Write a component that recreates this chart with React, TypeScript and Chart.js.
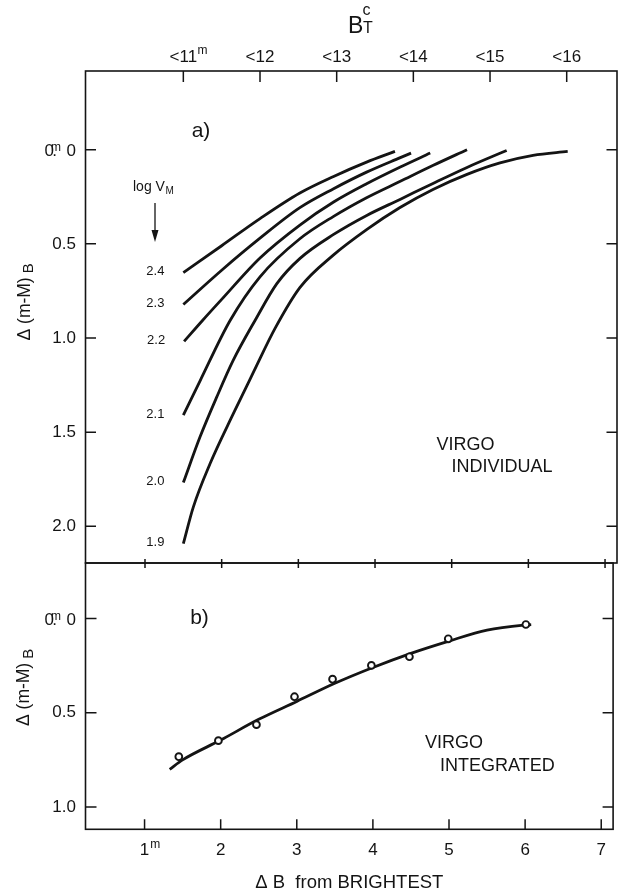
import React, { useEffect, useRef } from 'react';
import { Chart, registerables } from 'chart.js';

Chart.register(...registerables);

const FONT = '"Liberation Sans", Arial, Helvetica, sans-serif';
const INK = '#141414';

// ---------- Panel a) : VIRGO individual, curves labelled by log V_M ----------
const vmLabels = ['2.4', '2.3', '2.2', '2.1', '2.0', '1.9'];

const c24x = [1.5, 2.0, 2.5, 3.02, 3.46, 3.89, 4.26];
const c24y = [0.653, 0.51, 0.366, 0.23, 0.142, 0.066, 0.009];

const c23x = [1.5, 2.0, 2.5, 3.02, 3.46, 3.89, 4.33, 4.47];
const c23y = [0.822, 0.64, 0.47, 0.308, 0.207, 0.119, 0.042, 0.018];

const c22x = [1.51, 1.75, 2.0, 2.5, 3.02, 3.46, 3.89, 4.33, 4.72];
const c22y = [1.018, 0.907, 0.795, 0.575, 0.4, 0.278, 0.181, 0.092, 0.018];

const c21x = [1.5, 1.72, 2.11, 2.5, 3.02, 3.46, 3.89, 4.33, 4.76, 5.2];
const c21y = [1.41, 1.226, 0.907, 0.675, 0.473, 0.354, 0.255, 0.168, 0.083, 0.0];

const c20x = [1.5, 1.717, 1.935, 2.15, 2.435, 2.722, 3.022, 3.46, 3.892, 4.326, 4.756, 5.2, 5.717];
const c20y = [1.768, 1.526, 1.314, 1.119, 0.907, 0.71, 0.577, 0.45, 0.349, 0.264, 0.179, 0.094, 0.004];

const c19x = [1.5, 1.63, 1.848, 2.152, 2.413, 2.696, 3.022, 3.452, 3.895, 4.326, 4.756, 5.2, 5.63, 6.061, 6.513];
const c19y = [2.092, 1.898, 1.668, 1.402, 1.183, 0.949, 0.731, 0.561, 0.423, 0.307, 0.211, 0.131, 0.07, 0.03, 0.009];

const curvesX = [c24x, c23x, c22x, c21x, c20x, c19x];
const curvesY = [c24y, c23y, c22y, c21y, c20y, c19y];

// ---------- Panel b) : VIRGO integrated ----------
const intX = [1.45, 1.97, 2.47, 2.97, 3.47, 3.98, 4.48, 4.99, 6.01];
const intY = [0.733, 0.648, 0.563, 0.415, 0.322, 0.249, 0.203, 0.108, 0.032];

const fitX = [1.33, 1.5, 2.0, 2.5, 3.0, 3.5, 4.0, 4.5, 5.0, 5.5, 6.0, 6.08];
const fitY = [0.8, 0.75, 0.645, 0.535, 0.44, 0.344, 0.26, 0.185, 0.12, 0.062, 0.035, 0.033];

// ---------- Ticks ----------
const topTickValues = [1.5, 2.5, 3.5, 4.5, 5.5, 6.5];
const topTickLabels = ['<11', '<12', '<13', '<14', '<15', '<16'];
const bottomTickValues = [1, 2, 3, 4, 5, 6, 7];
const bottomTickLabels = ['1', '2', '3', '4', '5', '6', '7'];
const yTicksA = [0, 0.5, 1.0, 1.5, 2.0];
const yTicksB = [0, 0.5, 1.0];

const X_MIN = 0.224;
const X_MAX = 7.156;

const lineStyle = {
  borderColor: INK,
  borderWidth: 2.8,
  pointRadius: 0,
  fill: false,
  cubicInterpolationMode: 'monotone' as const,
  borderCapStyle: 'butt' as const,
};

const noGrid = { display: false, drawTicks: false };

function drawZeroLabel(ctx: CanvasRenderingContext2D, xRight: number, yPix: number) {
  ctx.font = `17px ${FONT}`;
  ctx.textBaseline = 'alphabetic';
  ctx.textAlign = 'right';
  const base = yPix + 6.1;
  ctx.fillText('0', xRight, base);
  ctx.fillText('0', xRight - 22, base);
  ctx.fillText('.', xRight - 19, base);
  ctx.font = `12px ${FONT}`;
  ctx.textAlign = 'left';
  ctx.fillText('m', xRight - 25, yPix + 1.7);
}

function drawYTitle(ctx: CanvasRenderingContext2D, xBase: number, yStart: number) {
  ctx.save();
  ctx.translate(xBase, yStart);
  ctx.rotate(-Math.PI / 2);
  ctx.font = `17.5px ${FONT}`;
  ctx.textAlign = 'left';
  ctx.textBaseline = 'alphabetic';
  const t = '\u0394 (m-M)';
  ctx.fillText(t, 0, 0);
  const w = ctx.measureText(t).width;
  ctx.font = `15px ${FONT}`;
  ctx.fillText('B', w + 4, 3.6);
  ctx.restore();
}

const panelAPlugin = {
  id: 'panelA',
  afterDraw(chart: any) {
    const { ctx, chartArea: a } = chart;
    const xs = chart.scales.x;
    const x2 = chart.scales.x2;
    const ys = chart.scales.y;
    ctx.save();
    ctx.strokeStyle = INK;
    ctx.fillStyle = INK;
    ctx.lineWidth = 1.6;
    ctx.strokeRect(a.left, a.top, a.right - a.left, a.bottom - a.top);
    ctx.lineWidth = 1.5;
    ctx.beginPath();
    for (const v of yTicksA) {
      const p = ys.getPixelForValue(v);
      ctx.moveTo(a.left, p);
      ctx.lineTo(a.left + 10.5, p);
      ctx.moveTo(a.right, p);
      ctx.lineTo(a.right - 10.5, p);
    }
    for (const v of topTickValues) {
      const p = x2.getPixelForValue(v);
      ctx.moveTo(p, a.top);
      ctx.lineTo(p, a.top + 11);
    }
    for (const v of bottomTickValues) {
      const p = xs.getPixelForValue(v);
      ctx.moveTo(p, a.bottom - 4);
      ctx.lineTo(p, a.bottom + 5);
    }
    ctx.stroke();

    // superscript m on "<11"
    ctx.font = `17px ${FONT}`;
    const w11 = ctx.measureText(topTickLabels[0]).width;
    ctx.font = `12px ${FONT}`;
    ctx.textAlign = 'left';
    ctx.textBaseline = 'alphabetic';
    ctx.fillText('m', x2.getPixelForValue(topTickValues[0]) + w11 / 2 + 0.5, a.top - 17.5);

    drawZeroLabel(ctx, a.left - 9.5, ys.getPixelForValue(0));

    // top axis title B_T^c
    ctx.textAlign = 'left';
    ctx.font = `23px ${FONT}`;
    ctx.fillText('B', 348, 33);
    ctx.font = `16px ${FONT}`;
    ctx.fillText('T', 363, 33);
    ctx.fillText('c', 362.5, 15);

    // panel tag
    ctx.font = `21px ${FONT}`;
    ctx.textAlign = 'center';
    ctx.textBaseline = 'middle';
    ctx.fillText('a)', 201, 131);

    // curve labels
    ctx.font = `13px ${FONT}`;
    for (let i = 0; i < vmLabels.length; i++) {
      const px = xs.getPixelForValue(curvesX[i][0]) - 28;
      const py = ys.getPixelForValue(curvesY[i][0]) - 1;
      ctx.fillText(vmLabels[i], px, py);
    }

    // log V_M with arrow
    ctx.textAlign = 'left';
    ctx.textBaseline = 'alphabetic';
    ctx.font = `14px ${FONT}`;
    ctx.fillText('log V', 133, 191);
    const wl = ctx.measureText('log V').width;
    ctx.font = `10px ${FONT}`;
    ctx.fillText('M', 133 + wl + 0.5, 194);
    ctx.lineWidth = 1.3;
    ctx.beginPath();
    ctx.moveTo(155, 203);
    ctx.lineTo(155, 232);
    ctx.stroke();
    ctx.beginPath();
    ctx.moveTo(151.5, 230);
    ctx.lineTo(158.5, 230);
    ctx.lineTo(155, 242);
    ctx.closePath();
    ctx.fill();

    // annotation
    ctx.font = `18px ${FONT}`;
    ctx.fillText('VIRGO', 436.5, 450);
    ctx.fillText('INDIVIDUAL', 451.5, 471.5);

    drawYTitle(ctx, 29.5, 340.5);
    ctx.restore();
  },
};

const panelBPlugin = {
  id: 'panelB',
  afterDraw(chart: any) {
    const { ctx, chartArea: a } = chart;
    const xs = chart.scales.x;
    const ys = chart.scales.y;
    ctx.save();
    ctx.strokeStyle = INK;
    ctx.fillStyle = INK;
    ctx.lineWidth = 1.6;
    ctx.strokeRect(a.left, a.top, a.right - a.left, a.bottom - a.top);
    ctx.lineWidth = 1.5;
    ctx.beginPath();
    for (const v of yTicksB) {
      const p = ys.getPixelForValue(v);
      ctx.moveTo(a.left, p);
      ctx.lineTo(a.left + 11, p);
      ctx.moveTo(a.right, p);
      ctx.lineTo(a.right - 10.5, p);
    }
    for (const v of bottomTickValues) {
      const p = xs.getPixelForValue(v);
      ctx.moveTo(p, a.bottom);
      ctx.lineTo(p, a.bottom - 10);
    }
    ctx.stroke();

    // superscript m on "1"
    ctx.font = `17px ${FONT}`;
    const w1 = ctx.measureText(bottomTickLabels[0]).width;
    ctx.font = `12px ${FONT}`;
    ctx.textAlign = 'left';
    ctx.textBaseline = 'alphabetic';
    ctx.fillText('m', xs.getPixelForValue(bottomTickValues[0]) + w1 / 2 + 1, a.bottom + 19);

    drawZeroLabel(ctx, a.left - 9.5, ys.getPixelForValue(0));

    ctx.font = `21px ${FONT}`;
    ctx.textAlign = 'center';
    ctx.textBaseline = 'middle';
    ctx.fillText('b)', 199.5, 78);

    ctx.textAlign = 'left';
    ctx.textBaseline = 'alphabetic';
    ctx.font = `18px ${FONT}`;
    ctx.fillText('VIRGO', 425, 208.3);
    ctx.fillText('INTEGRATED', 440, 230.7);

    ctx.textAlign = 'center';
    ctx.font = `18.5px ${FONT}`;
    ctx.fillText('\u0394 B  from BRIGHTEST', (a.left + a.right) / 2, 348);

    drawYTitle(ctx, 29, 186);
    ctx.restore();
  },
};

const baseOptions = {
  responsive: false,
  animation: false as const,
  devicePixelRatio: 1,
  events: [] as any[],
  plugins: { legend: { display: false }, tooltip: { enabled: false } },
};

function PanelA() {
  const ref = useRef<HTMLCanvasElement>(null);
  useEffect(() => {
    const chart = new Chart(ref.current as HTMLCanvasElement, {
      type: 'line',
      data: {
        datasets: curvesX.map((xs, k) => ({
          label: vmLabels[k],
          data: xs.map((x, i) => ({ x, y: curvesY[k][i] })),
          ...lineStyle,
        })),
      },
      options: {
        ...baseOptions,
        layout: { padding: { left: 0, right: 2, top: 0, bottom: 0 } },
        scales: {
          x: {
            type: 'linear', position: 'bottom', min: X_MIN, max: X_MAX,
            grid: noGrid, border: { display: false },
            ticks: { display: false },
            afterFit: (s: any) => { s.height = 37; },
          },
          x2: {
            type: 'linear', position: 'top', min: X_MIN, max: X_MAX,
            grid: noGrid, border: { display: false },
            afterBuildTicks: (s: any) => { s.ticks = topTickValues.map((v) => ({ value: v })); },
            ticks: {
              padding: 3, color: INK, maxRotation: 0, autoSkip: false,
              font: { family: FONT, size: 17 },
              callback: (_v: any, i: number) => topTickLabels[i],
            },
            afterFit: (s: any) => { s.height = 71; },
          },
          y: {
            type: 'linear', reverse: true, min: -0.418, max: 2.195,
            grid: noGrid, border: { display: false },
            afterBuildTicks: (s: any) => { s.ticks = yTicksA.map((v) => ({ value: v })); },
            ticks: {
              padding: 9.5, color: INK, autoSkip: false,
              font: { family: FONT, size: 17 },
              callback: (v: any) => (Number(v) === 0 ? '' : Number(v).toFixed(1)),
            },
            afterFit: (s: any) => { s.width = 85.5; },
          },
        },
      } as any,
      plugins: [panelAPlugin],
    });
    return () => chart.destroy();
  }, []);
  return (
    <canvas
      ref={ref}
      width={619}
      height={600}
      style={{ position: 'absolute', left: 0, top: 0, width: 619, height: 600 }}
    />
  );
}

function PanelB() {
  const ref = useRef<HTMLCanvasElement>(null);
  useEffect(() => {
    const chart = new Chart(ref.current as HTMLCanvasElement, {
      type: 'line',
      data: {
        datasets: [
          {
            label: 'integrated',
            data: intX.map((x, i) => ({ x, y: intY[i] })),
            showLine: false,
            pointRadius: 3.4,
            pointBorderWidth: 1.9,
            pointBackgroundColor: '#ffffff',
            pointBorderColor: INK,
            order: 0,
          },
          {
            label: 'fit',
            data: fitX.map((x, i) => ({ x, y: fitY[i] })),
            ...lineStyle,
            order: 1,
          },
        ],
      },
      options: {
        ...baseOptions,
        layout: { padding: { left: 0, right: 2, top: 23, bottom: 0 } },
        scales: {
          x: {
            type: 'linear', position: 'bottom', min: X_MIN, max: X_MAX,
            grid: noGrid, border: { display: false },
            afterBuildTicks: (s: any) => { s.ticks = bottomTickValues.map((v) => ({ value: v })); },
            ticks: {
              padding: 10.5, color: INK, maxRotation: 0, autoSkip: false,
              font: { family: FONT, size: 17 },
              callback: (_v: any, i: number) => bottomTickLabels[i],
            },
            afterFit: (s: any) => { s.height = 60.7; },
          },
          y: {
            type: 'linear', reverse: true, min: -0.294, max: 1.118,
            grid: noGrid, border: { display: false },
            afterBuildTicks: (s: any) => { s.ticks = yTicksB.map((v) => ({ value: v })); },
            ticks: {
              padding: 9.5, color: INK, autoSkip: false,
              font: { family: FONT, size: 17 },
              callback: (v: any) => (Number(v) === 0 ? '' : Number(v).toFixed(1)),
            },
            afterFit: (s: any) => { s.width = 85.5; },
          },
        },
      } as any,
      plugins: [panelBPlugin],
    });
    return () => chart.destroy();
  }, []);
  return (
    <canvas
      ref={ref}
      width={619}
      height={350}
      style={{ position: 'absolute', left: 0, top: 540, width: 619, height: 350 }}
    />
  );
}

export default function App() {
  return (
    <div
      style={{
        position: 'absolute', left: 0, top: 0, width: 619, height: 890,
        overflow: 'hidden', background: '#ffffff',
      }}
    >
      <PanelA />
      <PanelB />
    </div>
  );
}
